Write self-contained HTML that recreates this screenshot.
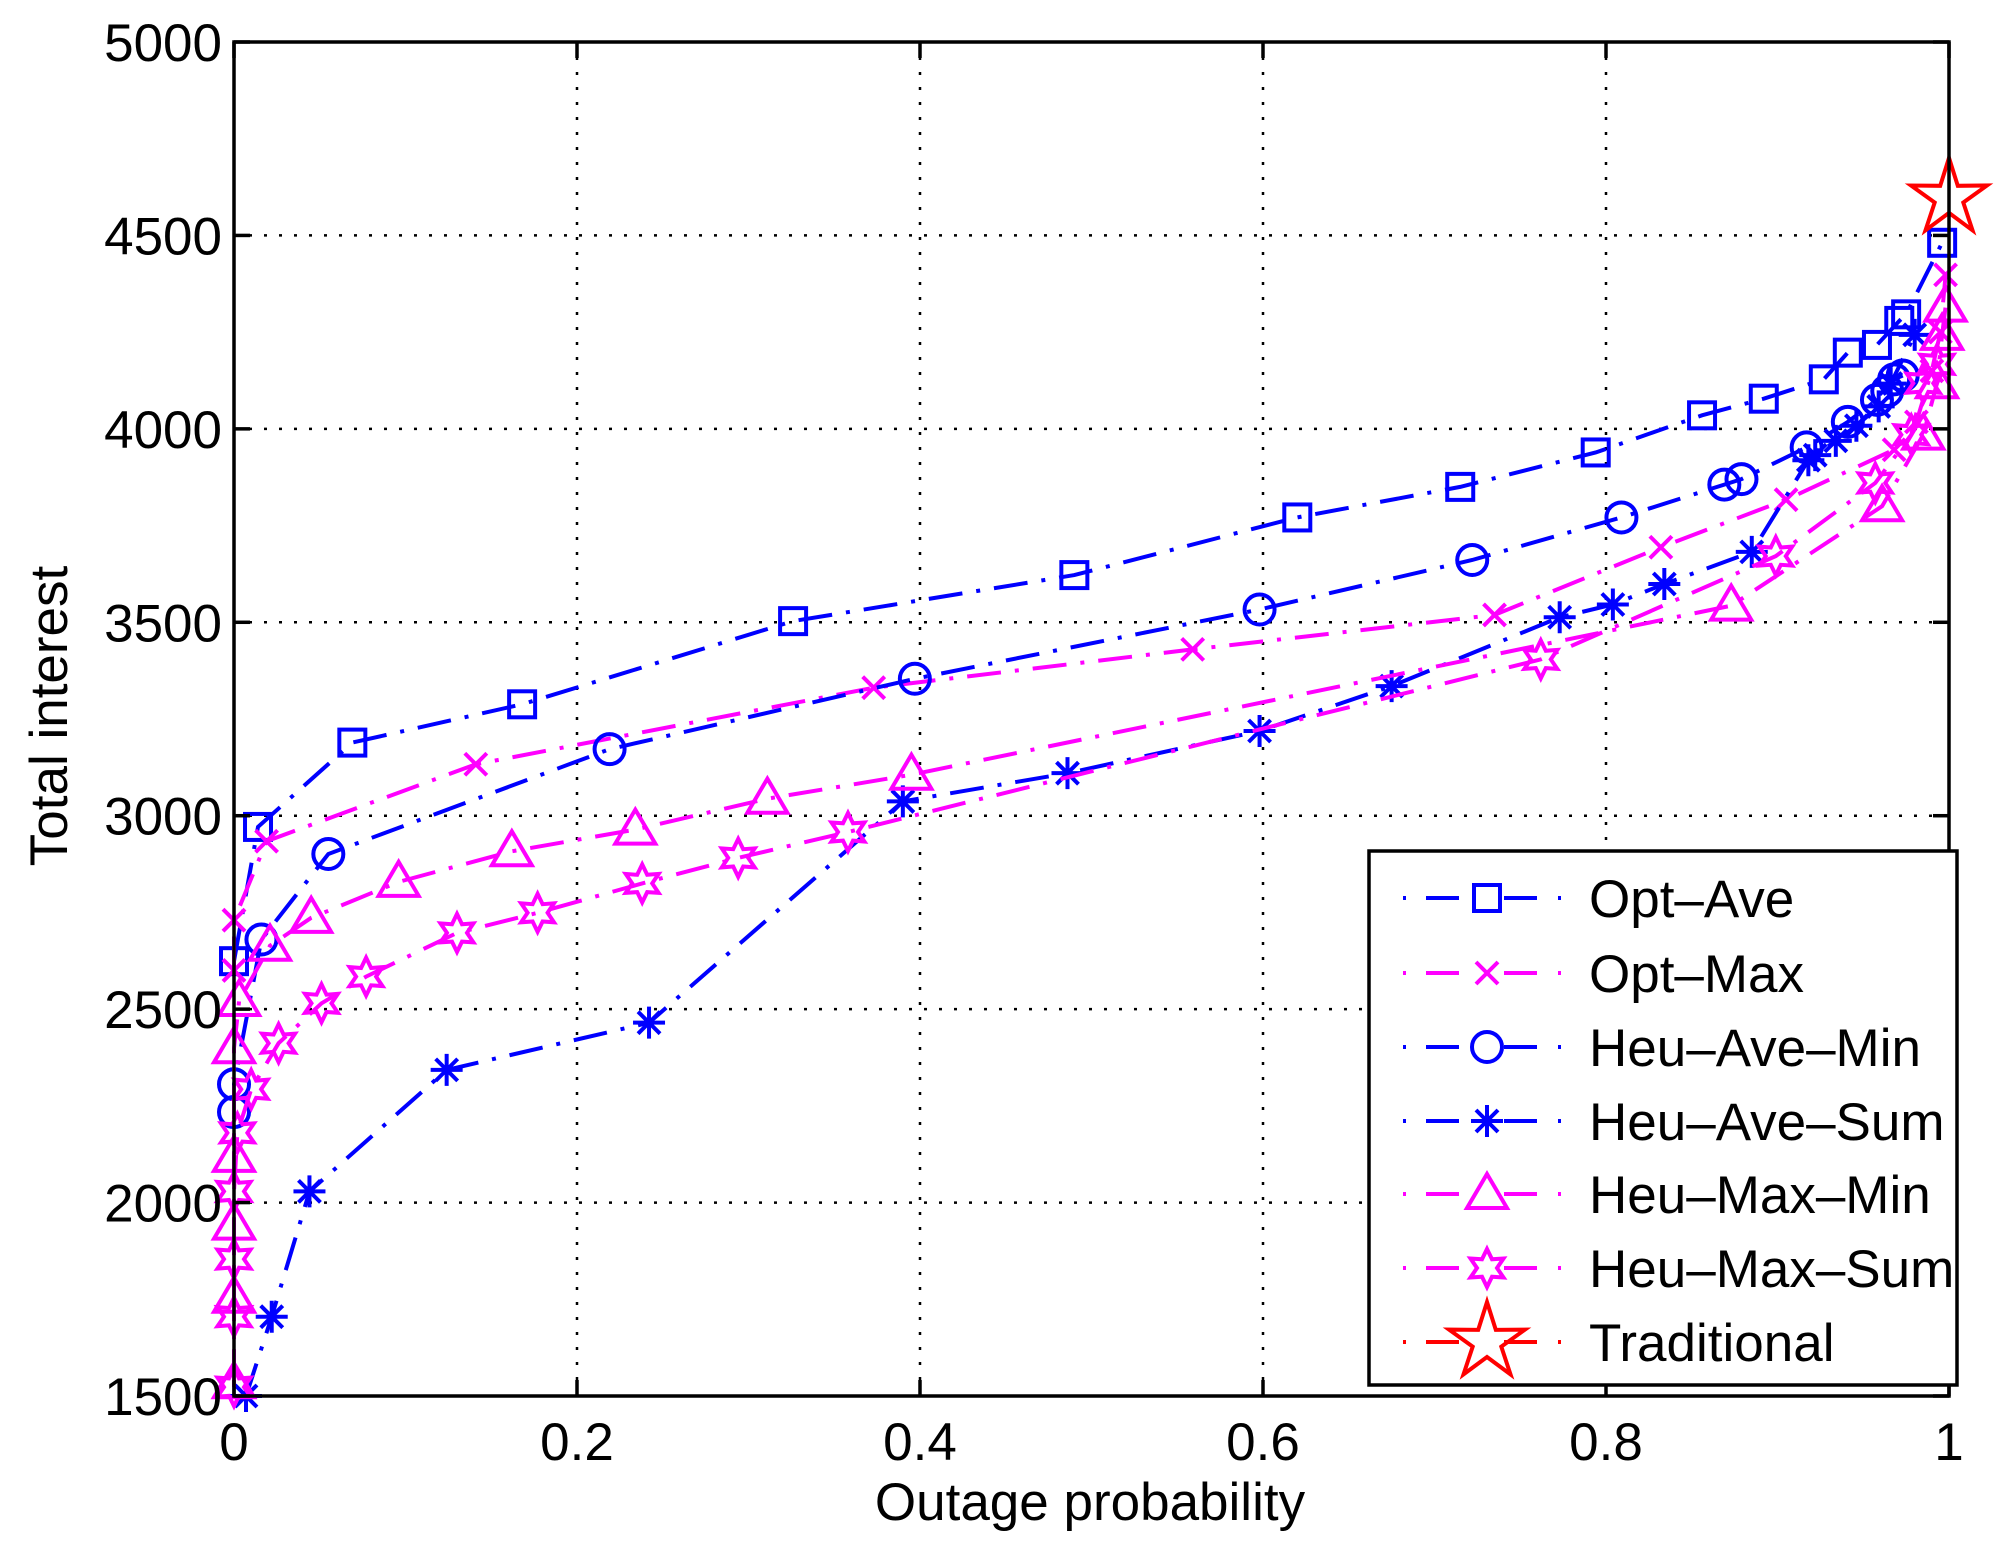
<!DOCTYPE html>
<html><head><meta charset="utf-8"><style>
html,body{margin:0;padding:0;background:#fff;}
svg{display:block;font-family:"Liberation Sans",Arial,sans-serif;}
</style></head><body>
<svg id="chart" width="2004" height="1550" viewBox="0 0 2004 1550" xmlns="http://www.w3.org/2000/svg">
<rect width="2004" height="1550" fill="#fff"/>
<g id="grid"></g>
<g id="series"></g>
<g id="axes"></g>
<g id="legend"></g>
</svg>
<script>
const xTicks = [0, 0.2, 0.4, 0.6, 0.8, 1];
const xTickLabels = ["0", "0.2", "0.4", "0.6", "0.8", "1"];
const yTicks = [1500, 2000, 2500, 3000, 3500, 4000, 4500, 5000];
const yTickLabels = ["1500", "2000", "2500", "3000", "3500", "4000", "4500", "5000"];
const seriesNames = ["Opt\u2013Ave","Opt\u2013Max","Heu\u2013Ave\u2013Min","Heu\u2013Ave\u2013Sum","Heu\u2013Max\u2013Min","Heu\u2013Max\u2013Sum","Traditional"];

const optAveX = [0,0.014,0.069,0.168,0.326,0.49,0.62,0.715,0.794,0.856,0.892,0.927,0.941,0.958,0.971,0.975,0.996];
const optAveY = [2624,2971,3189,3288,3503,3622,3771,3850,3939,4035,4078,4128,4197,4217,4279,4296,4481];
const optMaxX = [0,0,0.019,0.141,0.373,0.559,0.735,0.832,0.905,0.968,0.981,0.99,0.995,0.998];
const optMaxY = [2600,2730,2934,3133,3331,3430,3519,3694,3817,3946,4018,4150,4250,4398];
const heuAveMinX = [0,0,0.016,0.055,0.219,0.397,0.598,0.722,0.809,0.869,0.879,0.917,0.941,0.958,0.964,0.968,0.973];
const heuAveMinY = [2234,2306,2680,2901,3172,3354,3533,3661,3771,3856,3870,3952,4018,4075,4098,4128,4138];
const heuAveSumX = [0.007,0.022,0.044,0.124,0.242,0.39,0.486,0.598,0.675,0.773,0.804,0.834,0.885,0.918,0.922,0.934,0.946,0.959,0.966,0.98];
const heuAveSumY = [1500,1705,2029,2343,2465,3037,3110,3219,3335,3513,3546,3599,3682,3919,3932,3969,4008,4058,4117,4243];
const heuMaxMinX = [0,0,0,0,0,0.003,0.021,0.045,0.096,0.162,0.234,0.311,0.395,0.873,0.961,0.985,0.993,0.996,0.998];
const heuMaxMinY = [1533,1754,1943,2118,2399,2521,2664,2736,2829,2908,2964,3044,3106,3543,3800,3985,4118,4243,4316];
const heuMaxSumX = [0,0,0,0,0.002,0.01,0.026,0.051,0.077,0.13,0.177,0.238,0.294,0.358,0.762,0.899,0.957,0.978,0.985,0.993];
const heuMaxSumY = [1523,1705,1854,2029,2180,2293,2412,2515,2584,2697,2749,2825,2891,2958,3404,3671,3860,3985,4118,4167];
const tradX = [1];
const tradY = [4597];

const NS = "http://www.w3.org/2000/svg";
const L = 234, R = 1949, T = 42, B = 1396;
function sx(v){ return L + (v - 0) / (1 - 0) * (R - L); }
function sy(v){ return B - (v - 1500) / (5000 - 1500) * (B - T); }
function mk(tag, attrs, parent){
  const e = document.createElementNS(NS, tag);
  for (const k in attrs) e.setAttribute(k, attrs[k]);
  parent.appendChild(e);
  return e;
}
const grid = document.getElementById('grid');
const axes = document.getElementById('axes');
const seriesG = document.getElementById('series');
const legend = document.getElementById('legend');

xTicks.forEach((t, i) => {
  if (i > 0 && i < xTicks.length - 1) {
    const g = mk('line', {x1: sx(t), x2: sx(t), y1: T, y2: B, stroke: '#000', 'stroke-width': 2.5, 'stroke-dasharray': '3 12'}, grid);
    
    
  }
  const tk1 = mk('line', {x1: sx(t), x2: sx(t), y1: B, y2: B - 16, stroke: '#000', 'stroke-width': 3.5}, axes);
  
  
  const tk2 = mk('line', {x1: sx(t), x2: sx(t), y1: T, y2: T + 16, stroke: '#000', 'stroke-width': 3.5}, axes);
  
  
  const lb = mk('text', {x: sx(t), y: B + 64, 'text-anchor': 'middle', 'font-size': 53, fill: '#000'}, axes);
  lb.textContent = xTickLabels[i];
  
  
});
yTicks.forEach((t, i) => {
  if (i > 0 && i < yTicks.length - 1) {
    const g = mk('line', {x1: L, x2: R, y1: sy(t), y2: sy(t), stroke: '#000', 'stroke-width': 2.5, 'stroke-dasharray': '3 12'}, grid);
    
    
  }
  const tk1 = mk('line', {x1: L, x2: L + 16, y1: sy(t), y2: sy(t), stroke: '#000', 'stroke-width': 3.5}, axes);
  
  
  const tk2 = mk('line', {x1: R, x2: R - 16, y1: sy(t), y2: sy(t), stroke: '#000', 'stroke-width': 3.5}, axes);
  
  
  const lb = mk('text', {x: L - 12, y: sy(t) + 19, 'text-anchor': 'end', 'font-size': 53, fill: '#000'}, axes);
  lb.textContent = yTickLabels[i];
  
  
});
const box = mk('rect', {x: L, y: T, width: R - L, height: B - T, fill: 'none', stroke: '#000', 'stroke-width': 3.5}, axes);


const xt = mk('text', {x: 1090, y: 1520, 'text-anchor': 'middle', 'font-size': 53, fill: '#000'}, axes);
xt.textContent = 'Outage probability';


const yt = mk('text', {x: 0, y: 0, 'text-anchor': 'middle', 'font-size': 53, fill: '#000', transform: 'translate(67,716) rotate(-90)'}, axes);
yt.textContent = 'Total interest';



function marker(type, x, y, color, parent){
  const sw = 4, a = {fill: 'none', stroke: color, 'stroke-width': sw};
  let e;
  if (type === 'square') e = mk('rect', Object.assign({x: x - 13, y: y - 13, width: 26, height: 26}, a), parent);
  else if (type === 'circle') e = mk('circle', Object.assign({cx: x, cy: y, r: 15}, a), parent);
  else if (type === 'x') e = mk('path', Object.assign({d: `M${x-11},${y-11}L${x+11},${y+11}M${x-11},${y+11}L${x+11},${y-11}`}, a), parent);
  else if (type === 'star6') {
    let d = '';
    for (let k = 0; k < 12; k++) {
      const r = k % 2 ? 10 : 19, ang = -Math.PI / 2 + k * Math.PI / 6;
      d += (k ? 'L' : 'M') + (x + r * Math.cos(ang)).toFixed(1) + ',' + (y + r * Math.sin(ang)).toFixed(1);
    }
    e = mk('path', Object.assign({d: d + 'Z'}, a), parent);
  }
  else if (type === 'tri') e = mk('path', Object.assign({d: `M${x},${y-20}L${x+20},${y+14}L${x-20},${y+14}Z`}, a), parent);
  else if (type === 'asterisk') e = mk('path', Object.assign({d: `M${x},${y-16}L${x},${y+16}M${x-16},${y}L${x+16},${y}M${x-11},${y-11}L${x+11},${y+11}M${x-11},${y+11}L${x+11},${y-11}`}, a), parent);
  else if (type === 'pent') {
    let d = '';
    for (let k = 0; k < 10; k++) {
      const r = k % 2 ? 15 : 40, ang = -Math.PI / 2 + k * Math.PI / 5;
      d += (k ? 'L' : 'M') + (x + r * Math.cos(ang)).toFixed(1) + ',' + (y + r * Math.sin(ang)).toFixed(1);
    }
    e = mk('path', Object.assign({d: d + 'Z'}, a), parent);
  }
  return e;
}
const specs = [
  {x: optAveX, y: optAveY, c: '#0000ff', m: 'square', n: 'opt-ave'},
  {x: optMaxX, y: optMaxY, c: '#ff00ff', m: 'x', n: 'opt-max'},
  {x: heuAveMinX, y: heuAveMinY, c: '#0000ff', m: 'circle', n: 'heu-ave-min'},
  {x: heuAveSumX, y: heuAveSumY, c: '#0000ff', m: 'asterisk', n: 'heu-ave-sum'},
  {x: heuMaxMinX, y: heuMaxMinY, c: '#ff00ff', m: 'tri', n: 'heu-max-min'},
  {x: heuMaxSumX, y: heuMaxSumY, c: '#ff00ff', m: 'star6', n: 'heu-max-sum'},
  {x: tradX, y: tradY, c: '#ff0000', m: 'pent', n: 'traditional'}
];
const dash = '34 14 4 14';
specs.forEach(s => {
  const g = mk('g', {}, seriesG);
  
  
  const pts = s.x.map((v, i) => sx(v).toFixed(1) + ',' + sy(s.y[i]).toFixed(1)).join(' ');
  const pl = mk('polyline', {points: pts, fill: 'none', stroke: s.c, 'stroke-width': 4, 'stroke-dasharray': dash}, g);
  
  
  s.x.forEach((v, i) => {
    const e = marker(s.m, sx(v), sy(s.y[i]), s.c, g);
    
    
  });
});

const lb = mk('rect', {x: 1369, y: 851, width: 588, height: 534, fill: '#fff', stroke: '#000', 'stroke-width': 3.5}, legend);


const rowY = [898, 973, 1047, 1121, 1194, 1268, 1342];
specs.forEach((s, i) => {
  const g = mk('g', {}, legend);
  
  
  const y = rowY[i];
  const seg = mk('path', {d: `M1426,${y}L1459,${y}M1504,${y}L1537,${y}M1558,${y}L1561,${y}M1403,${y}L1406,${y}`, stroke: s.c, 'stroke-width': 4, fill: 'none'}, g);
  
  
  const m = marker(s.m, 1487, y, s.c, g);
  
  
  const t = mk('text', {x: 1589, y: y + 19, 'font-size': 53, fill: '#000'}, g);
  t.textContent = seriesNames[i];
  
  
});
</script>
</body></html>
